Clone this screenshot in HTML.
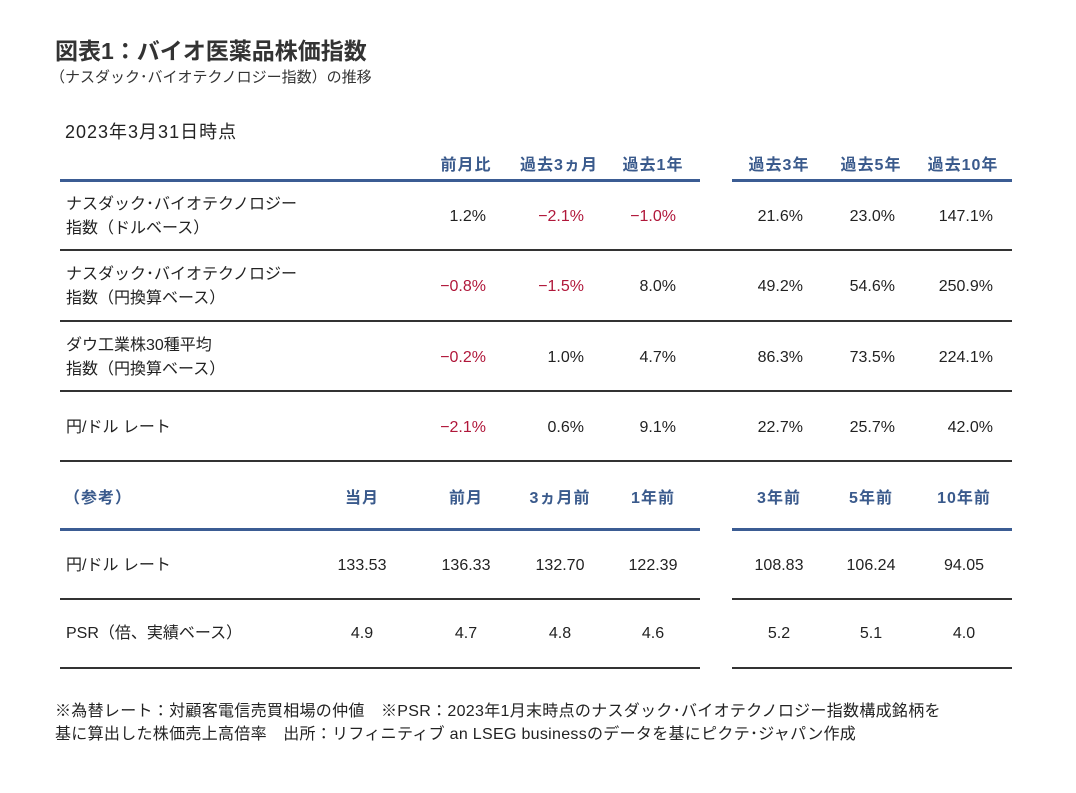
<!DOCTYPE html>
<html><head><meta charset="utf-8"><style>
body{margin:0;width:1076px;height:793px;background:#fff;position:relative;overflow:hidden;font-family:"Liberation Sans","Noto Sans CJK JP",sans-serif;color:#222}
div{position:absolute;white-space:nowrap}
.t{font-size:16px;line-height:20px}
.h{font-size:16px;font-weight:bold;color:#3a5a8c;transform:translateX(-50%);letter-spacing:1px}
.c{transform:translateX(-50%)}
.r{transform:translateX(-100%)}
.red{color:#b0173a}
.bl{height:3px;background:#3b5c93}
.gl{height:2px;background:#333}
</style></head><body>
<div style="left:55px;top:32px;font-size:23px;font-weight:bold;color:#333">図表1：バイオ医薬品株価指数</div>
<div style="left:50px;top:66px;font-size:15px;color:#333">（ナスダック･バイオテクノロジー指数）の推移</div>
<div class="t" style="left:65px;top:122px;font-size:18px;letter-spacing:1px">2023年3月31日時点</div>
<div class="t" style="left:55px;top:702px;font-size:16px;letter-spacing:0.3px">※為替レート：対顧客電信売買相場の仲値　※PSR：2023年1月末時点のナスダック･バイオテクノロジー指数構成銘柄を</div>
<div class="t" style="left:55px;top:725px;font-size:16px;letter-spacing:0.3px">基に算出した株価売上高倍率　出所：リフィニティブ an LSEG businessのデータを基にピクテ･ジャパン作成</div>
<script>
const headers1=["前月比","過去3ヵ月","過去1年","過去3年","過去5年","過去10年"];
const rowLabels1=[["ナスダック･バイオテクノロジー","指数（ドルベース）"],["ナスダック･バイオテクノロジー","指数（円換算ベース）"],["ダウ工業株30種平均","指数（円換算ベース）"],["円/ドル レート"]];
const values1=[["1.2%","−2.1%","−1.0%","21.6%","23.0%","147.1%"],["−0.8%","−1.5%","8.0%","49.2%","54.6%","250.9%"],["−0.2%","1.0%","4.7%","86.3%","73.5%","224.1%"],["−2.1%","0.6%","9.1%","22.7%","25.7%","42.0%"]];
const headers2=["当月","前月","3ヵ月前","1年前","3年前","5年前","10年前"];
const rowLabels2=["円/ドル レート","PSR（倍、実績ベース）"];
const values2=[["133.53","136.33","132.70","122.39","108.83","106.24","94.05"],["4.9","4.7","4.8","4.6","5.2","5.1","4.0"]];
const root=document.body;
function mk(cls,style,text,name){const d=document.createElement('div');d.className=cls;d.style.cssText=style;if(text!==undefined)d.textContent=text;


root.appendChild(d);return d;}
const c1=[466,559,653,779,871,963], r1=[486,584,676,803,895,993];
const c2=[362,466,560,653,779,871,964];
headers1.forEach((h,i)=>mk('h',`left:${c1[i]}px;top:151px`,h,'header-'+i));
mk('bl','left:60px;top:179px;width:640px','', 'header-rule-left');
mk('bl','left:732px;top:179px;width:280px','', 'header-rule-right');
const rowTop=[195,265,336,418], rowLine=[249,320,390,460];
rowLabels1.forEach((lab,ri)=>{
  const top=rowTop[ri];
  lab.forEach((l,k)=>mk('t',`left:66px;top:${top+k*24}px`,l,'row-label-'+ri));
  const vy=lab.length===2?top+12:top;
  values1[ri].forEach((v,ci)=>mk('t r'+(v.startsWith('−')?' red':''),`left:${r1[ci]}px;top:${vy}px`,v,'value-'+ri+'-'+ci));
  mk('gl',`left:60px;top:${rowLine[ri]}px;width:952px`,'','row-rule-'+ri);
});
mk('h',`left:98px;top:484px`,'（参考）','ref-header');
headers2.forEach((h,i)=>mk('h',`left:${c2[i]}px;top:484px`,h,'ref-header-'+i));
mk('bl','left:60px;top:528px;width:640px','','ref-rule-left');
mk('bl','left:732px;top:528px;width:280px','','ref-rule-right');
const r2Top=[556,624], r2Line=[598,667];
rowLabels2.forEach((l,ri)=>{
  mk('t',`left:66px;top:${r2Top[ri]}px`,l,'ref-row-label-'+ri);
  values2[ri].forEach((v,ci)=>mk('t c',`left:${c2[ci]}px;top:${r2Top[ri]}px`,v,'ref-value-'+ri+'-'+ci));
  mk('gl',`left:60px;top:${r2Line[ri]}px;width:640px`,'','ref-rule-l-'+ri);
  mk('gl',`left:732px;top:${r2Line[ri]}px;width:280px`,'','ref-rule-r-'+ri);
});
</script>
</body></html>
